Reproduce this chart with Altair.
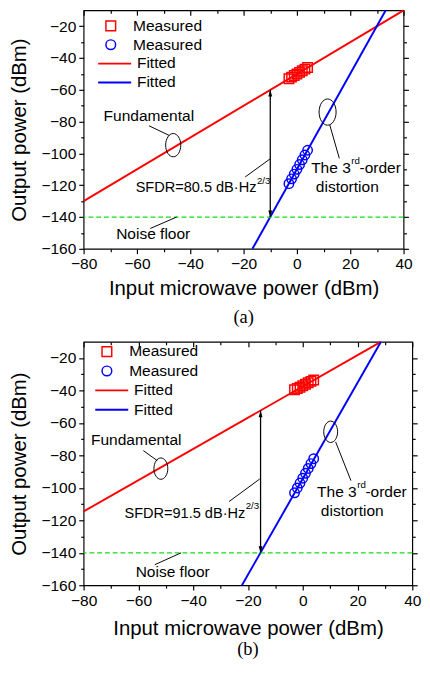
import altair as alt
import pandas as pd

# ---------------- data ----------------
X_DOMAIN = [-80, 40]
Y_DOMAIN = [-160, -10]
x_tick_values = [-80, -70, -60, -50, -40, -30, -20, -10, 0, 10, 20, 30, 40]
y_tick_values = [-160, -150, -140, -130, -120, -110, -100, -90, -80, -70,
                 -60, -50, -40, -30, -20]
noise_floor_level = [-140]

series_meas_fund = "Measured (fund)"
series_meas_imd = "Measured (imd)"
series_fit_fund = "Fitted (fund)"
series_fit_imd = "Fitted (imd)"

# panel (a)
a_fund_fit_x = [-80, 40]
a_fund_fit_y = [-130, -10]
a_imd_fit_x = [-16.7, 33.3]
a_imd_fit_y = [-160, -10]
a_fund_meas_x = [-3, -2, -1, 0, 1, 2, 3, 4]
a_fund_meas_y = [-53, -52, -51, -50, -49, -48, -47, -46]
a_imd_meas_x = [-3, -2, -1, 0, 1, 2, 3, 4]
a_imd_meas_y = [-119, -116, -113, -110, -107, -104, -101, -98]
a_arrow = [-10, -60, -140]
a_sfdr_label = "SFDR=80.5 dB·Hz"
a_fund_ellipse = [-46.4, -94.8]
a_imd_ellipse = [11.5, -74]
a_fund_text = [-72.5, -76.5]
a_fund_leader = [-55.5, -82.6, -47.9, -88.7]
a_imd_text = [20.2, -109.4]
a_imd_text2 = [7.1, -120.9]
a_imd_leader = [12.3, -82, 15.9, -103.1]
a_sfdr_text = [-15.2, -121.5]
a_sfdr_leader = [-19.4, -114.8, -10.1, -103.5]
a_noise_text = [-67.8, -150.7]
a_noise_leader = [-55, -147.2, -45.1, -140]

# panel (b)
b_fund_fit_x = [-80, 28.5]
b_fund_fit_y = [-114.5, -10]
b_imd_fit_x = [-22.2, 28.5]
b_imd_fit_y = [-160, -10]
b_fund_meas_x = [-3, -2, -1, 0, 1, 2, 3, 4]
b_fund_meas_y = [-39.5, -38.7, -37.9, -37, -36.1, -35.2, -34.3, -33.5]
b_imd_meas_x = [-3, -2, -1, 0, 1, 2, 3, 4]
b_imd_meas_y = [-103, -100, -97, -94, -91, -88, -85, -82]
b_arrow = [-15.4, -52.3, -140]
b_sfdr_label = "SFDR=91.5 dB·Hz"
b_fund_ellipse = [-51.8, -88.1]
b_imd_ellipse = [10.2, -65.4]
b_fund_text = [-77.3, -70.8]
b_fund_leader = [-58.2, -77, -53.1, -83.2]
b_imd_text = [19.7, -102.5]
b_imd_text2 = [6.6, -114.4]
b_imd_leader = [12.0, -71.6, 17.6, -95.5]
b_sfdr_text = [-21, -115.6]
b_sfdr_leader = [-26.9, -108.4, -15.7, -94.5]
b_noise_text = [-61, -152]
b_noise_leader = [-54, -147.3, -44.4, -140]

FONT = "Liberation Sans"
SERIF = "Liberation Serif"
RED = "#ff0000"
BLUE = "#0000ff"
GREEN = "#11e011"
ELLIPSE = ("M0,-1 C0.36,-1 0.65,-0.55 0.65,0 C0.65,0.55 0.36,1 0,1 "
           "C-0.36,1 -0.65,0.55 -0.65,0 C-0.65,-0.55 -0.36,-1 0,-1 Z")
HEAD_UP = "M0,0 L-0.5,1.7 L0.5,1.7 Z"
HEAD_DOWN = "M0,0 L-0.5,-1.7 L0.5,-1.7 Z"
LINE_SYMBOL = "M-3.4,0 L3.4,0"

xs = alt.Scale(domain=X_DOMAIN, nice=False, zero=False)
ys = alt.Scale(domain=Y_DOMAIN, nice=False, zero=False)
major_test = "datum.value % 20 == 0"
tick_len = {"condition": {"test": major_test, "value": 5}, "value": 3}


def X(field="x", axis=None):
    return alt.X(f"{field}:Q", scale=xs, axis=axis)


def Y(field="y", axis=None):
    return alt.Y(f"{field}:Q", scale=ys, axis=axis)


def text_layer(pos, s, size=16, align="left", dx=0, dy=0):
    df = pd.DataFrame({"x": [pos[0]], "y": [pos[1]], "t": [s]})
    return alt.Chart(df).mark_text(
        align=align, baseline="middle", font=FONT, fontSize=size,
        dx=dx, dy=dy, color="black"
    ).encode(x=X(), y=Y(), text="t:N")


def leader(seg):
    df = pd.DataFrame({"x": [seg[0]], "y": [seg[1]], "x2": [seg[2]], "y2": [seg[3]]})
    return alt.Chart(df).mark_rule(color="black", strokeWidth=1).encode(
        x=X(), y=Y(), x2="x2:Q", y2="y2:Q")


def ellipse(pos, size):
    df = pd.DataFrame({"x": [pos[0]], "y": [pos[1]]})
    return alt.Chart(df).mark_point(
        shape=ELLIPSE, size=size, filled=False, color="black",
        strokeWidth=1, opacity=1).encode(x=X(), y=Y())


def panel(d, W, H, leg, caption):
    fit_df = pd.DataFrame({
        "x": d["fund_fit_x"] + d["imd_fit_x"],
        "y": d["fund_fit_y"] + d["imd_fit_y"],
        "s": [series_fit_fund] * len(d["fund_fit_x"]) + [series_fit_imd] * len(d["imd_fit_x"]),
    })
    meas_df = pd.DataFrame({
        "x": d["fund_meas_x"] + d["imd_meas_x"],
        "y": d["fund_meas_y"] + d["imd_meas_y"],
        "s": [series_meas_fund] * len(d["fund_meas_x"]) + [series_meas_imd] * len(d["imd_meas_x"]),
    })

    x_axis = alt.Axis(
        orient="bottom", values=x_tick_values, grid=False, domain=False,
        title="Input microwave power (dBm)", titlePadding=d["xtp"],
        labelExpr=f"{major_test} ? datum.label : ''",
        tickSize=tick_len, labelPadding=d["xlp"], labelFlush=False, labelOverlap=False)
    y_axis = alt.Axis(
        orient="left", values=y_tick_values, grid=False, domain=False,
        title="Output power (dBm)", titlePadding=12,
        labelExpr=f"{major_test} ? datum.label : ''",
        tickSize=tick_len, labelPadding=3, labelFlush=False, labelOverlap=False)
    x_axis_top = alt.Axis(
        orient="bottom", offset=-H, values=x_tick_values, grid=False, domain=False,
        labels=False, title=None, tickSize=tick_len)
    y_axis_right = alt.Axis(
        orient="right", values=y_tick_values, grid=False, domain=False,
        labels=False, title=None, tickSize=tick_len)

    leg_common = dict(
        title=None, orient="none", labelFont=FONT, labelFontSize=16,
        labelColor="black", rowPadding=leg["rp"], labelOffset=15,
        labelExpr="split(datum.label, ' (')[0]")

    fit = alt.Chart(fit_df).mark_line(strokeWidth=2).encode(
        x=X(axis=x_axis), y=Y(axis=y_axis),
        color=alt.Color("s:N", scale=alt.Scale(
            domain=[series_fit_fund, series_fit_imd], range=[RED, BLUE]),
            legend=alt.Legend(symbolType=LINE_SYMBOL, symbolSize=100,
                              symbolStrokeWidth=2,
                              legendX=leg["x2"], legendY=leg["y2"], **leg_common)),
        detail="s:N")

    pts_legend = alt.Legend(symbolSize=100, symbolStrokeWidth=1.5,
                            legendX=leg["x1"], legendY=leg["y1"], **leg_common)
    pts = alt.Chart(meas_df).mark_point(filled=False, size=95, strokeWidth=1.5,
                                        opacity=1).encode(
        x=X(axis=x_axis_top), y=Y(axis=y_axis_right),
        color=alt.Color("s:N", scale=alt.Scale(
            domain=[series_meas_fund, series_meas_imd], range=[RED, BLUE]),
            legend=pts_legend),
        shape=alt.Shape("s:N", scale=alt.Scale(
            domain=[series_meas_fund, series_meas_imd], range=["square", "circle"]),
            legend=pts_legend))

    noise = alt.Chart(pd.DataFrame({"y": noise_floor_level})).mark_rule(
        color=GREEN, strokeDash=[5, 3], strokeWidth=1.3).encode(y=Y())

    arr = d["arrow"]
    arrow_df = pd.DataFrame({"x": [arr[0]], "y": [arr[1]], "y2": [arr[2]]})
    arrow = alt.Chart(arrow_df).mark_rule(color="black", strokeWidth=1.3).encode(
        x=X(), y=Y(), y2="y2:Q")
    head_up = alt.Chart(pd.DataFrame({"x": [arr[0]], "y": [arr[1]]})).mark_point(
        shape=HEAD_UP, size=64, filled=True, color="black", opacity=1).encode(x=X(), y=Y())
    head_dn = alt.Chart(pd.DataFrame({"x": [arr[0]], "y": [arr[2]]})).mark_point(
        shape=HEAD_DOWN, size=64, filled=True, color="black", opacity=1).encode(x=X(), y=Y())

    layers = [
        fit, noise, pts, arrow, head_up, head_dn,
        ellipse(d["fund_ellipse"], d["e1"]), ellipse(d["imd_ellipse"], d["e2"]),
        leader(d["fund_leader"]), leader(d["imd_leader"]),
        leader(d["sfdr_leader"]), leader(d["noise_leader"]),
        text_layer(d["fund_text"], "Fundamental"),
        text_layer(d["imd_text"], "The 3", align="right"),
        text_layer(d["imd_text"], "rd", size=10, dy=-7, dx=0.5),
        text_layer(d["imd_text"], "-order", dx=9),
        text_layer(d["imd_text2"], "distortion"),
        text_layer(d["sfdr_text"], d["sfdr_label"], size=15, align="right"),
        text_layer(d["sfdr_text"], "2/3", size=10, dy=-7, dx=0.5),
        text_layer(d["noise_text"], "Noise floor"),
    ]
    return alt.layer(*layers).resolve_axis(
        x="independent", y="independent"
    ).resolve_scale(color="independent", shape="independent").properties(
        width=W, height=H,
        title=alt.TitleParams(caption, orient="bottom", font=SERIF, fontSize=19,
                              fontWeight="normal", color="black", frame="group",
                              anchor="middle", offset=d["cap_off"]))


pa = dict(fund_fit_x=a_fund_fit_x, fund_fit_y=a_fund_fit_y,
          imd_fit_x=a_imd_fit_x, imd_fit_y=a_imd_fit_y,
          fund_meas_x=a_fund_meas_x, fund_meas_y=a_fund_meas_y,
          imd_meas_x=a_imd_meas_x, imd_meas_y=a_imd_meas_y,
          arrow=a_arrow, sfdr_label=a_sfdr_label,
          fund_ellipse=a_fund_ellipse, imd_ellipse=a_imd_ellipse,
          fund_text=a_fund_text, fund_leader=a_fund_leader,
          imd_text=a_imd_text, imd_text2=a_imd_text2, imd_leader=a_imd_leader,
          sfdr_text=a_sfdr_text, sfdr_leader=a_sfdr_leader,
          noise_text=a_noise_text, noise_leader=a_noise_leader,
          e1=576, e2=729, xtp=7, xlp=2, cap_off=11)
pb = dict(fund_fit_x=b_fund_fit_x, fund_fit_y=b_fund_fit_y,
          imd_fit_x=b_imd_fit_x, imd_fit_y=b_imd_fit_y,
          fund_meas_x=b_fund_meas_x, fund_meas_y=b_fund_meas_y,
          imd_meas_x=b_imd_meas_x, imd_meas_y=b_imd_meas_y,
          arrow=b_arrow, sfdr_label=b_sfdr_label,
          fund_ellipse=b_fund_ellipse, imd_ellipse=b_imd_ellipse,
          fund_text=b_fund_text, fund_leader=b_fund_leader,
          imd_text=b_imd_text, imd_text2=b_imd_text2, imd_leader=b_imd_leader,
          sfdr_text=b_sfdr_text, sfdr_leader=b_sfdr_leader,
          noise_text=b_noise_text, noise_leader=b_noise_leader,
          e1=484, e2=484, xtp=10, xlp=3, cap_off=2)

chart_a = panel(pa, 330, 246, dict(x1=20, y1=8, x2=24, y2=47, rp=3.5), "(a)")
chart_b = panel(pb, 339, 251, dict(x1=16, y1=2, x2=21, y2=42, rp=4), "(b)")

chart = alt.vconcat(chart_a, chart_b, spacing=9).properties(
    padding={"left": 0, "top": -13, "right": 0, "bottom": 0}
).configure_view(stroke="black", strokeWidth=1.2, fill="white").configure_axis(
    labelFont=FONT, labelFontSize=16, labelColor="black",
    titleFont=FONT, titleFontSize=21, titleFontWeight="normal", titleColor="black",
    tickColor="black", tickWidth=1.2
).configure_concat(spacing=9)

chart.save("out.html", embed_options={"renderer": "svg", "actions": False})
